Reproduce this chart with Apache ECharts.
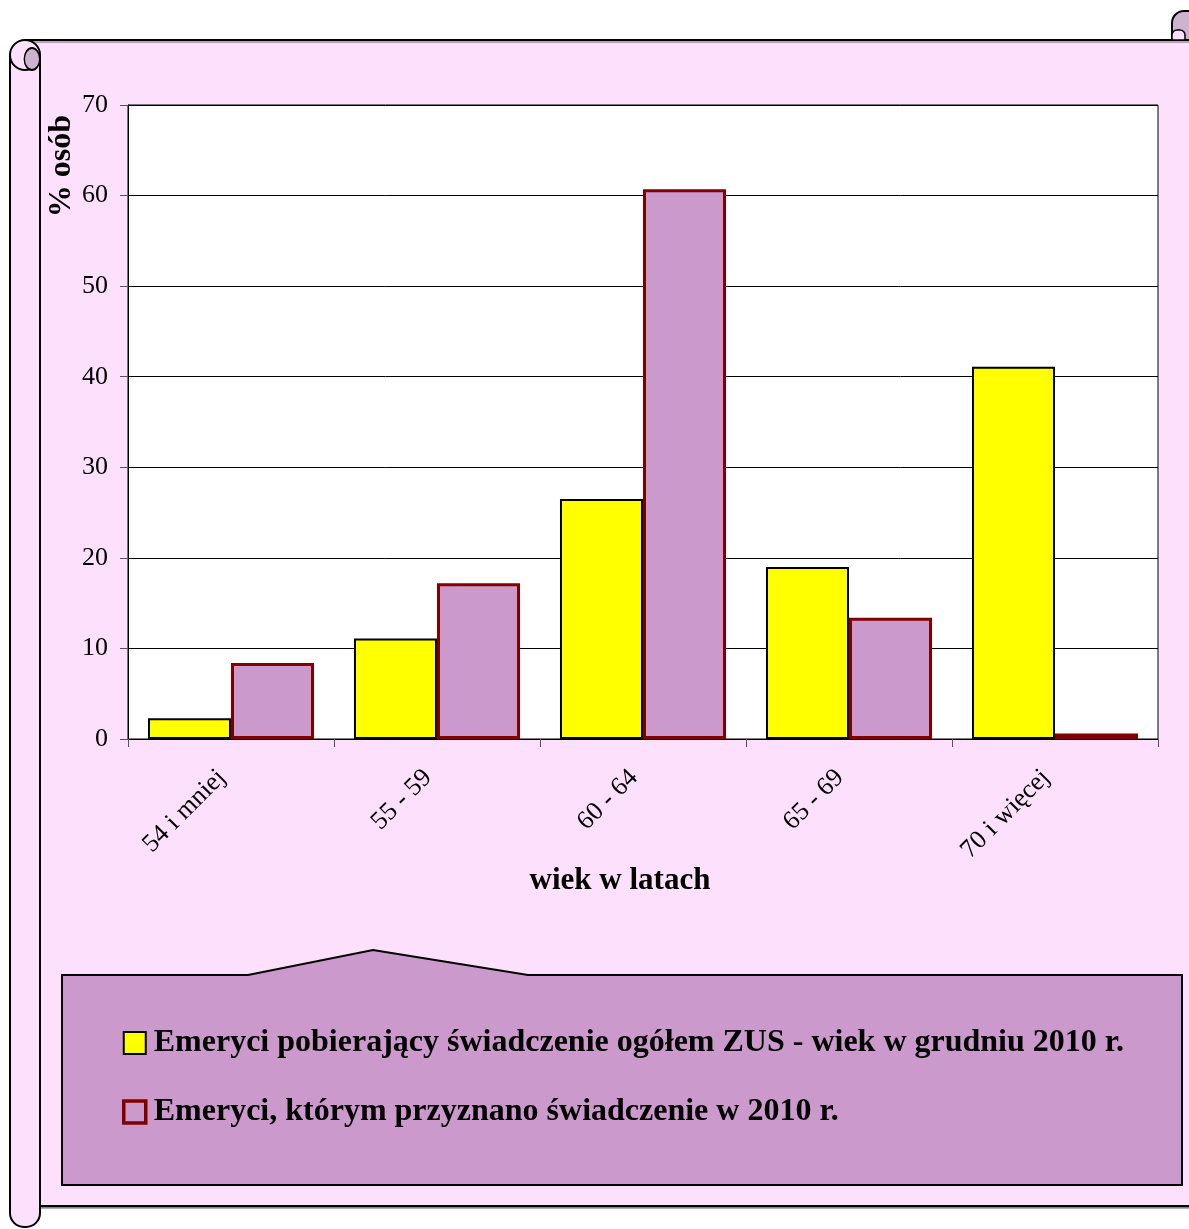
<!DOCTYPE html>
<html>
<head>
<meta charset="utf-8">
<script src="https://cdn.jsdelivr.net/npm/echarts@6/dist/echarts.min.js"></script>
<style>
html,body{margin:0;padding:0;background:#fff;}
#chart{width:1189px;height:1229px;}
</style>
</head>
<body>
<div id="chart"></div>
<script>
var categories = ['54 i mniej', '55 - 59', '60 - 64', '65 - 69', '70 i więcej'];
var seriesNames = [
  'Emeryci pobierający świadczenie ogółem ZUS - wiek w grudniu 2010 r.',
  'Emeryci, którym przyznano świadczenie w 2010 r.'
];
var valuesOgolem = [2.3, 11.1, 26.5, 19.0, 41.1];
var valuesPrzyznane = [8.4, 17.2, 60.7, 13.4, 0.6];
var yTicks = [0, 10, 20, 30, 40, 50, 60, 70];
var axisTitleY = '% osób';
var axisTitleX = 'wiek w latach';

var FONT = 'Liberation Serif, Times New Roman, serif';
var PINK = '#FDE0FB';
var PURPLE = '#CC99CC';
var DARKRED = '#800000';

var chart = echarts.init(document.getElementById('chart'), null, {renderer: 'canvas'});

var option = {
  backgroundColor: '#ffffff',
  animation: false,
  graphic: [
    {type: 'rect', z: -20, shape: {x: 25, y: 40, width: 1200, height: 1166},
      style: {fill: PINK, stroke: '#000', lineWidth: 2, shadowColor: 'rgba(0,0,0,0.3)', shadowOffsetY: 2, shadowBlur: 1}},
    {type: 'rect', z: -19, shape: {x: 10, y: 55, width: 30, height: 1172, r: [0, 0, 14, 14]},
      style: {fill: PINK, stroke: '#000', lineWidth: 2}},
    {type: 'circle', z: -18, shape: {cx: 25, cy: 55, r: 15},
      style: {fill: PINK, stroke: '#000', lineWidth: 2}},
    {type: 'circle', z: -17, x: 32, y: 59, scaleX: 0.7, shape: {cx: 0, cy: 0, r: 11},
      style: {fill: '#CDB3CF', stroke: '#000', lineWidth: 2}},
    {type: 'rect', z: -17, shape: {x: 1172, y: 11, width: 24, height: 29, r: [12, 0, 0, 0]},
      style: {fill: '#CDB3CF', stroke: '#000', lineWidth: 2}},
    {type: 'rect', z: -16, shape: {x: 1172, y: 30, width: 13, height: 10, r: [5, 5, 0, 0]},
      style: {fill: PINK, stroke: '#000', lineWidth: 1.5}},
    {type: 'polygon', z: -15,
      shape: {points: [[62, 975], [248, 975], [373, 950], [528, 975], [1182, 975], [1182, 1185], [62, 1185]]},
      style: {fill: PURPLE, stroke: '#000', lineWidth: 2}},
    {type: 'text', z: 10, x: 62, y: 166, rotation: Math.PI / 2,
      style: {text: axisTitleY, font: 'bold 32px ' + FONT, fill: '#000', textAlign: 'center', textVerticalAlign: 'middle'}},
    {type: 'text', z: 10, x: 620, y: 881,
      style: {text: axisTitleX, font: 'bold 31px ' + FONT, fill: '#000', textAlign: 'center', textVerticalAlign: 'middle'}}
  ],
  grid: {
    left: 128, top: 105, width: 1030, height: 634,
    show: true, backgroundColor: '#ffffff', borderColor: '#000', borderWidth: 1,
    containLabel: false
  },
  legend: {
    orient: 'vertical',
    left: 122, top: 1027,
    padding: 0,
    itemWidth: 22, itemHeight: 22,
    itemGap: 37,
    icon: 'rect',
    selectedMode: false,
    data: [
      {name: seriesNames[0], itemStyle: {color: '#FFFF00', borderColor: '#000', borderWidth: 2}},
      {name: seriesNames[1], itemStyle: {color: PURPLE, borderColor: DARKRED, borderWidth: 3.5}}
    ],
    textStyle: {fontFamily: FONT, fontWeight: 'bold', fontSize: 32, color: '#000', padding: [0, 0, 0, 3]}
  },
  xAxis: {
    type: 'category',
    data: categories,
    axisLine: {lineStyle: {color: '#000', width: 1}},
    axisTick: {show: true, alignWithLabel: false, length: 8, lineStyle: {color: '#555'}},
    axisLabel: {rotate: 45, margin: 44, verticalAlign: 'bottom', fontFamily: FONT, fontSize: 26, color: '#000', interval: 0}
  },
  yAxis: {
    type: 'value',
    min: 0, max: 70, interval: 10,
    axisLine: {show: true, lineStyle: {color: '#000', width: 1}},
    axisTick: {show: true, length: 8, lineStyle: {color: '#555'}},
    axisLabel: {margin: 20, fontFamily: FONT, fontSize: 26, color: '#000',
      formatter: function (v) { return yTicks.indexOf(v) >= 0 ? String(v) : ''; }},
    splitLine: {show: true, lineStyle: {color: '#000', width: 1}}
  },
  series: [
    {
      name: seriesNames[0], type: 'bar', data: valuesOgolem,
      barGap: '0%', barCategoryGap: '19.4%',
      itemStyle: {color: '#FFFF00', borderColor: '#000', borderWidth: 2}
    },
    {
      name: seriesNames[1], type: 'bar', data: valuesPrzyznane,
      barGap: '0%', barCategoryGap: '19.4%',
      itemStyle: {color: PURPLE, borderColor: DARKRED, borderWidth: 3}
    }
  ]
};
chart.setOption(option);
</script>
</body>
</html>
